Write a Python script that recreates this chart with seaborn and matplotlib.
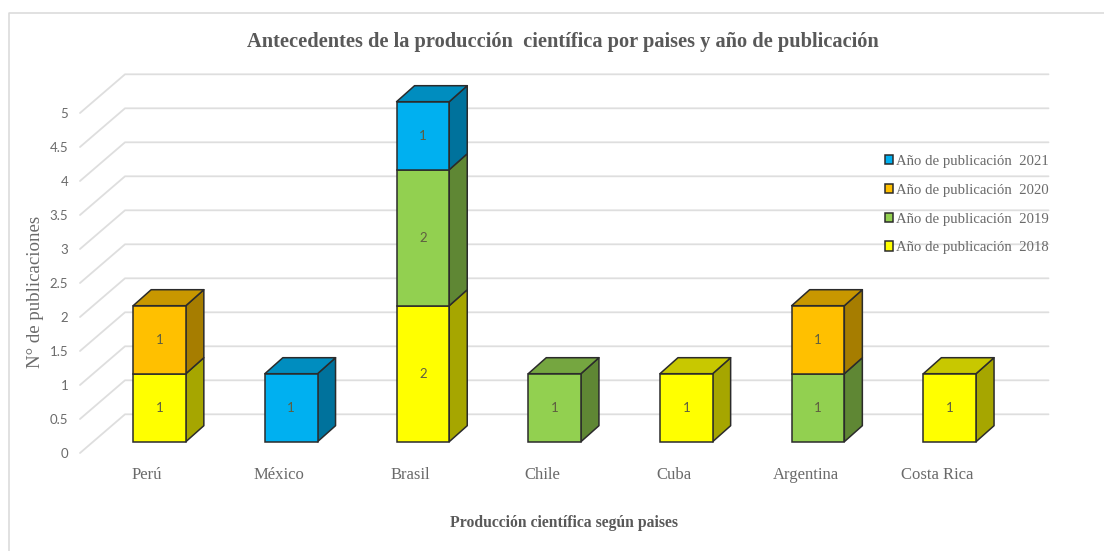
import numpy as np
import pandas as pd
import seaborn as sns
import matplotlib
matplotlib.use("Agg")
import matplotlib.pyplot as plt
from matplotlib.lines import Line2D
from matplotlib.patches import Polygon
from matplotlib.transforms import ScaledTranslation

paises = ["Perú", "México", "Brasil", "Chile", "Cuba", "Argentina", "Costa Rica"]
anios = [2018, 2019, 2020, 2021]
n_2018 = [1, 0, 2, 0, 1, 0, 1]
n_2019 = [0, 0, 2, 1, 0, 1, 0]
n_2020 = [1, 0, 0, 0, 0, 1, 0]
n_2021 = [0, 1, 1, 0, 0, 0, 0]
marcas_y = [0, 0.5, 1, 1.5, 2, 2.5, 3, 3.5, 4, 4.5, 5]
etiquetas_y = ["0", "0.5", "1", "1.5", "2", "2.5", "3", "3.5", "4", "4.5", "5"]

frente = ["#FFFF00", "#92D050", "#FFC000", "#00B0F0"]
lateral = ["#A6A600", "#5F8734", "#A67D00", "#00729C"]
superior = ["#C8C800", "#75A640", "#C89700", "#008DBF"]
BORDE = "#2B2B2B"
GRIS = "#6A6A6A"
SERIF = "Liberation Serif"

W, H = 1104, 551
sns.set_theme(style="white")
fig = plt.figure(figsize=(W / 100, H / 100), dpi=100, facecolor="white")

# Plot frame in pixels; the scale is one category = 131.7 px and one publication = 68 px
izq, der, arriba, abajo = 80, 1048.5, 60, 453
ax = fig.add_axes([izq / W, 1 - abajo / H, (der - izq) / W, (abajo - arriba) / H])
ax.patch.set_alpha(0)
PX_X, PX_Y = 131.7, 68.0
xlim = ((izq - 159.5) / PX_X, (der - 159.5) / PX_X)
ylim = (-(abajo - 441.7) / PX_Y, (441.7 - arriba) / PX_Y)

# Perspective offsets, in data units
caja_dx, caja_dy = 18 / PX_X, 16 / PX_Y
x_pared = (125 - 159.5) / PX_X
y_pared = (441.7 - 414.3) / PX_Y

# Receding floor/wall guides behind the bars
for v in marcas_y:
    ax.plot([xlim[0], x_pared, xlim[1]],
            [v + ylim[0], v + y_pared, v + y_pared],
            color="#DEDEDE", lw=1.3, zorder=1, clip_on=False)

# Stacked front faces
series = [n_2018, n_2019, n_2020, n_2021]
base = np.zeros(len(paises))
totales = np.sum(series, axis=0)
for anio, valores, c_f, c_l, c_s in zip(anios, series, frente, lateral, superior):
    valores = np.array(valores, dtype=float)
    hay = valores > 0
    tabla = pd.DataFrame({"pais": np.array(paises)[hay], "n": valores[hay]})
    sns.barplot(data=tabla, x="pais", y="n", order=paises, color=c_f, saturation=1,
                width=0.4, errorbar=None, bottom=base[hay], edgecolor=BORDE,
                linewidth=1.1, zorder=4, ax=ax, label=f"Año de publicación  {anio}")
    barras = ax.containers[-1]
    ax.bar_label(barras, labels=[f"{int(v)}" for v in valores[hay]], label_type="center",
                 color="#5E5E40", fontsize=9.5, family="Lato", zorder=6)
    # Side and top faces extruded from each front rectangle
    for r, idx in zip(barras.patches, np.flatnonzero(hay)):
        x0, y0, w, h = r.get_x(), r.get_y(), r.get_width(), r.get_height()
        x1, y1 = x0 + w, y0 + h
        ax.add_patch(Polygon([(x1, y0), (x1 + caja_dx, y0 + caja_dy),
                              (x1 + caja_dx, y1 + caja_dy), (x1, y1)], closed=True,
                             fc=c_l, ec=BORDE, lw=1.1, zorder=3, joinstyle="round"))
        if base[idx] + valores[idx] == totales[idx]:
            ax.add_patch(Polygon([(x0, y1), (x1, y1), (x1 + caja_dx, y1 + caja_dy),
                                  (x0 + caja_dx, y1 + caja_dy)], closed=True,
                                 fc=c_s, ec=BORDE, lw=1.1, zorder=3, joinstyle="round"))
    base = base + valores

ax.set_xlim(*xlim)
ax.set_ylim(*ylim)
sns.despine(ax=ax, left=True, bottom=True)
ax.set_xlabel("")
ax.set_ylabel("")
ax.grid(False)

# Tick labels sit on the front plane, shifted off the bars' own baseline
ax.set_yticks(marcas_y, etiquetas_y)
ax.tick_params(axis="y", length=0, pad=8.5, labelsize=9.5, labelcolor=GRIS)
ax.tick_params(axis="x", length=0, pad=10, labelsize=12, labelcolor=GRIS)
baja = ScaledTranslation(0, -(abajo - 441.7) / 100, fig.dpi_scale_trans)
for t in ax.get_yticklabels():
    t.set_family("Lato")
    t.set_transform(t.get_transform() + baja)
corre = ScaledTranslation(-12.5 / 100, 0, fig.dpi_scale_trans)
for t in ax.get_xticklabels():
    t.set_family(SERIF)
    t.set_transform(t.get_transform() + corre)

# Chart texts
fig.text(563 / W, 1 - 42 / H, "Antecedentes de la producción  científica por paises y año de publicación",
         ha="center", va="center", family=SERIF, weight="bold", fontsize=14.7, color="#595959")
fig.text(564 / W, 1 - 523 / H, "Producción científica según paises",
         ha="center", va="center", family=SERIF, weight="bold", fontsize=11.3, color="#595959")
fig.text(36 / W, 1 - 292 / H, "N° de publicaciones", rotation=90,
         ha="center", va="center", family=SERIF, fontsize=13.6, color=GRIS)

# Legend, newest year on top
contenedores = list(ax.containers)[::-1]
ley = ax.legend(handles=contenedores,
                labels=[f"Año de publicación  {a}" for a in anios[::-1]],
                loc="upper left", bbox_to_anchor=(884.5 / W, 1 - 155 / H),
                bbox_transform=fig.transFigure, frameon=False, borderpad=0, borderaxespad=0,
                handlelength=0.58, handleheight=0.58, handletextpad=0.2,
                labelspacing=1.07, prop={"family": SERIF, "size": 10.6})
for t in ley.get_texts():
    t.set_color(GRIS)

# Thin outer frame along the top and left edges
borde = "#D9D9D9"
fig.add_artist(Line2D([9 / W, 9 / W, 1], [0, 1 - 12.5 / H, 1 - 12.5 / H],
                      transform=fig.transFigure, color=borde, lw=1.1))

fig.savefig("out.png", dpi=100, facecolor="white")
